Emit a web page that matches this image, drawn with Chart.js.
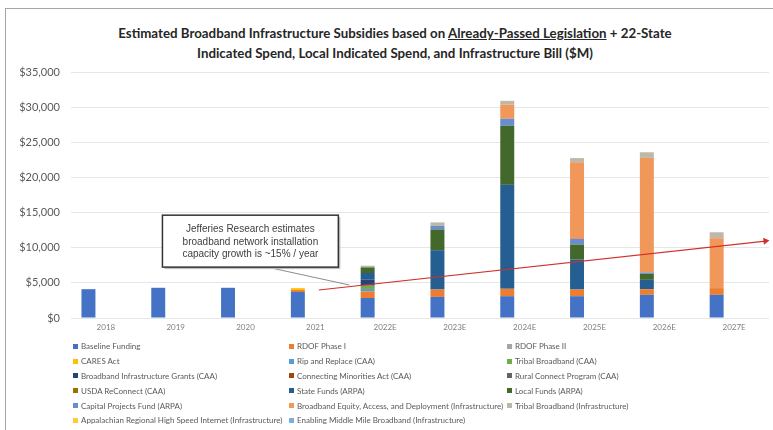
<!DOCTYPE html>
<html lang="en">
<head>
<meta charset="UTF-8">
<title>Estimated Broadband Infrastructure Subsidies</title>
<style>
  body { margin: 0; background: #fff; font-family: Lato, "Open Sans", sans-serif; }
  .page { position: relative; width: 773px; height: 430px; overflow: hidden; }
  .frame { position: absolute; left: 5px; top: 8px; width: 800px; height: 500px; border: 1px solid #a6a6a6; }
  .title { position: absolute; left: 5px; width: 780px; top: 23px; text-align: center;
           font-weight: bold; font-size: 13.3px; line-height: 20px; color: #262626; }
  .chart-box { position: absolute; left: 0; top: 0; width: 773px; height: 340px; }
  #legend { position: absolute; left: 73px; top: 339px; display: grid;
            grid-template-columns: 216px 218px 230px; grid-auto-rows: 14.8px;
            font-size: 8px; color: #595959; }
  .item { display: flex; align-items: center; white-space: nowrap; }
  .swatch { width: 5px; height: 5px; margin-right: 3px; flex: none; }
</style>
</head>
<body>
<div class="page">
  <div class="frame"></div>
  <div class="title">Estimated Broadband Infrastructure Subsidies based on <u>Already-Passed Legislation</u> + 22-State<br>Indicated Spend, Local Indicated Spend, and Infrastructure Bill ($M)</div>
  <div class="chart-box"><canvas id="chart"></canvas></div>
  <div id="legend"></div>
</div>
<script src="https://cdn.jsdelivr.net/npm/chart.js"></script>
<script>
// categories
const years = ['2018', '2019', '2020', '2021', '2022E', '2023E', '2024E', '2025E', '2026E', '2027E'];

// series values ($M)
const baselineFunding   = [4100, 4300, 4300, 3700, 2850, 3000, 3100, 3100, 3300, 3300];
const rdofPhase1        = [0, 0, 0, 300, 950, 1050, 1050, 950, 800, 950];
const rdofPhase2        = [0, 0, 0, 0, 0, 0, 0, 0, 0, 0];
const caresAct          = [0, 0, 0, 250, 0, 0, 0, 0, 0, 0];
const ripAndReplace     = [0, 0, 0, 0, 330, 0, 0, 0, 0, 0];
const tribalCAA         = [0, 0, 0, 0, 470, 0, 0, 0, 0, 0];
const infraGrantsCAA    = [0, 0, 0, 0, 850, 0, 0, 0, 0, 0];
const minoritiesCAA     = [0, 0, 0, 0, 0, 0, 0, 0, 0, 0];
const ruralConnectCAA   = [0, 0, 0, 0, 0, 0, 0, 0, 0, 0];
const usdaReConnect     = [0, 0, 0, 0, 0, 0, 0, 0, 0, 0];
const stateFunds        = [0, 0, 0, 0, 950, 5600, 14800, 4250, 1330, 0];
const localFunds        = [0, 0, 0, 0, 800, 2950, 8400, 2150, 850, 0];
const capitalProjects   = [0, 0, 0, 0, 0, 500, 1000, 800, 200, 0];
const beadInfra         = [0, 0, 0, 0, 0, 0, 2000, 10900, 16300, 7100];
const tribalInfra       = [0, 0, 0, 0, 240, 500, 550, 600, 800, 850];
const appalachianInfra  = [0, 0, 0, 0, 0, 0, 0, 0, 0, 0];
const middleMileInfra   = [0, 0, 0, 0, 0, 0, 0, 0, 0, 0];

// ~15% / year capacity growth arrow (x in category index units)
const trendX = [3.05, 9.45];
const trendY = [3980, 10950];

// y axis ticks
const yTicks = [0, 5000, 10000, 15000, 20000, 25000, 30000, 35000];

const series = [
  ['Baseline Funding', baselineFunding, '#4472C4'],
  ['RDOF Phase I', rdofPhase1, '#ED7D31'],
  ['RDOF Phase II', rdofPhase2, '#A5A5A5'],
  ['CARES Act', caresAct, '#FFC000'],
  ['Rip and Replace (CAA)', ripAndReplace, '#5B9BD5'],
  ['Tribal Broadband (CAA)', tribalCAA, '#70AD47'],
  ['Broadband Infrastructure Grants (CAA)', infraGrantsCAA, '#264478'],
  ['Connecting Minorities Act (CAA)', minoritiesCAA, '#9E480E'],
  ['Rural Connect Program (CAA)', ruralConnectCAA, '#636363'],
  ['USDA ReConnect (CAA)', usdaReConnect, '#997300'],
  ['State Funds (ARPA)', stateFunds, '#255E91'],
  ['Local Funds (ARPA)', localFunds, '#43682B'],
  ['Capital Projects Fund (ARPA)', capitalProjects, '#698ED0'],
  ['Broadband Equity, Access, and Deployment (Infrastructure)', beadInfra, '#F1975A'],
  ['Tribal Broadband (Infrastructure)', tribalInfra, '#BDB8A8'],
  ['Appalachian Regional High Speed Internet (Infrastructure)', appalachianInfra, '#FFCD33'],
  ['Enabling Middle Mile Broadband (Infrastructure)', middleMileInfra, '#7CAFDD']
];

const barSets = series.map(([label, data, color]) => ({
  type: 'bar', label, data, backgroundColor: color, borderWidth: 0,
  categoryPercentage: 1, barPercentage: 0.4, stack: 'subsidies'
}));

const trendSet = {
  type: 'line', label: 'trend',
  data: trendX.map((x, i) => ({ x, y: trendY[i] })),
  xAxisID: 'x2', stack: 'trend', order: -1, clip: false,
  borderColor: '#D0312D', borderWidth: 1.2, tension: 0,
  pointStyle: 'triangle', pointRadius: [0, 4], pointRotation: [0, 84],
  pointBackgroundColor: '#D0312D', pointBorderWidth: 0
};

// callout box, placed in data units (x index, y $M)
const calloutLines = ['Jefferies Research estimates', 'broadband network installation', 'capacity growth is ~15% / year'];
const calloutPlugin = {
  id: 'callout',
  afterDatasetsDraw(chart) {
    const ctx = chart.ctx, sx = chart.scales.x2, sy = chart.scales.y;
    const left = sx.getPixelForValue(0.81), right = sx.getPixelForValue(3.33);
    const top = sy.getPixelForValue(14630), bottom = sy.getPixelForValue(7240);
    ctx.save();
    ctx.strokeStyle = '#8c8c8c';
    ctx.lineWidth = 1;
    ctx.beginPath();
    ctx.moveTo(sx.getPixelForValue(2.31), bottom);
    ctx.lineTo(sx.getPixelForValue(3.49), sy.getPixelForValue(4690));
    ctx.stroke();
    ctx.fillStyle = '#bfbfbf';
    ctx.fillRect(left + 2, top + 2, right - left, bottom - top);
    ctx.fillStyle = '#fff';
    ctx.fillRect(left, top, right - left, bottom - top);
    ctx.strokeStyle = '#333';
    ctx.lineWidth = 1.5;
    ctx.strokeRect(left, top, right - left, bottom - top);
    ctx.fillStyle = '#404040';
    ctx.font = '10px "Liberation Sans", Arial, sans-serif';
    ctx.textAlign = 'center';
    ctx.textBaseline = 'middle';
    const cx = (left + right) / 2, h = bottom - top;
    calloutLines.forEach((t, i) => ctx.fillText(t, cx, top + h * (0.27 + i * 0.245)));
    ctx.restore();
  }
};

const chart = new Chart(document.getElementById('chart'), {
  data: { labels: years, datasets: [...barSets, trendSet] },
  options: {
    responsive: true, maintainAspectRatio: false, animation: false,
    layout: { padding: { top: 72, right: 3, left: 0, bottom: 0 } },
    plugins: { legend: { display: false }, tooltip: { enabled: false } },
    scales: {
      x: {
        stacked: true,
        grid: { display: false, drawTicks: false }, border: { display: false },
        ticks: { color: '#7f7f7f', font: { family: 'Lato', size: 8 }, padding: 5, maxRotation: 0, autoSkip: false },
        afterFit(s) { s.height = 22; }
      },
      x2: { type: 'linear', min: -0.5, max: 9.5, display: false },
      y: {
        stacked: true, min: 0, max: 35000,
        afterBuildTicks(s) { s.ticks = yTicks.map(v => ({ value: v })); },
        grid: { color: '#e6e6e6', drawTicks: false }, border: { display: false },
        ticks: {
          color: '#595959', font: { family: 'Lato', size: 11 }, padding: 11,
          callback: v => '$' + Number(v).toLocaleString('en-US')
        },
        afterFit(s) { s.width = 71; }
      }
    }
  },
  plugins: [calloutPlugin]
});

// 3-column legend built from the bar datasets
const legend = document.getElementById('legend');
barSets.forEach(ds => {
  const item = document.createElement('div');
  item.className = 'item';
  item.innerHTML = `<span class="swatch" style="background:${ds.backgroundColor}"></span>${ds.label}`;
  legend.appendChild(item);
});
</script>
</body>
</html>
